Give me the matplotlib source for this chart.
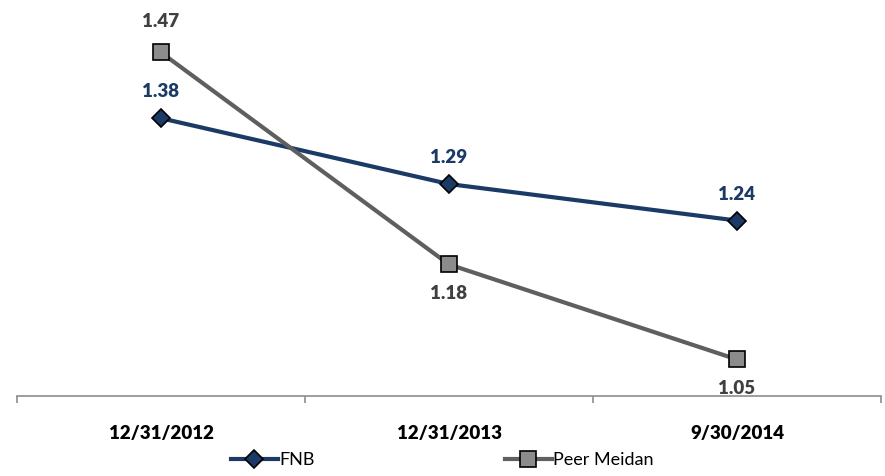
import matplotlib.pyplot as plt

plt.rcParams['font.family'] = ['Lato', 'DejaVu Sans']

# dates and ratios per series
dates = ['12/31/2012', '12/31/2013', '9/30/2014']
fnb = [1.38, 1.29, 1.24]
peer = [1.47, 1.18, 1.05]

navy = '#1B3A66'
grey = '#5F5F5F'

fig = plt.figure(figsize=(8.85, 4.76), dpi=100)
ax = fig.add_axes([17/885, 80/476, 864/885, 402/476])

x = list(range(len(dates)))
ax.plot(x, fnb, color=navy, lw=3, marker='D', ms=9, mfc=navy, mec='black', mew=1.2,
        label='FNB', zorder=3)
ax.plot(x, peer, color=grey, lw=3, marker='s', ms=11, mfc='#8C8C8C', mec='black', mew=1.2,
        label='Peer Meidan', zorder=3)

# value labels
for i, v in enumerate(fnb):
    ax.annotate(f'{v:.2f}', (i, v), xytext=(0, 13), textcoords='offset points',
                ha='center', va='bottom', color=navy, fontsize=13.5, fontweight='heavy')
for i, v in enumerate(peer):
    dy = 16 if i == 0 else -15
    ax.annotate(f'{v:.2f}', (i, v), xytext=(0, dy), textcoords='offset points',
                ha='center', va='bottom' if dy > 0 else 'top', color='#404040',
                fontsize=13.5, fontweight='heavy')

ax.set_xlim(-0.5, 2.5)
ax.set_ylim(1.0, 1.55)
ax.set_yticks([])
for s in ['top', 'right', 'left']:
    ax.spines[s].set_visible(False)
ax.spines['bottom'].set_color('#8C8C8C')
ax.spines['bottom'].set_linewidth(1.2)

ax.set_xticks([-0.5, 0.5, 1.5, 2.5])
ax.set_xticklabels([])
ax.tick_params(axis='x', length=5, color='#8C8C8C', width=1.2)
ax.set_xticks(x, minor=True)
ax.set_xticklabels(dates, minor=True, fontsize=13.5, fontweight='heavy')
ax.tick_params(axis='x', which='minor', length=0, pad=21)

fig.legend(*ax.get_legend_handles_labels(), loc='center', bbox_to_anchor=(0.5, 16/476),
           ncol=2, frameon=False, fontsize=13, handlelength=2.6, handletextpad=0.1,
           columnspacing=10.5, borderpad=0)

plt.savefig('out.png', dpi=100)
